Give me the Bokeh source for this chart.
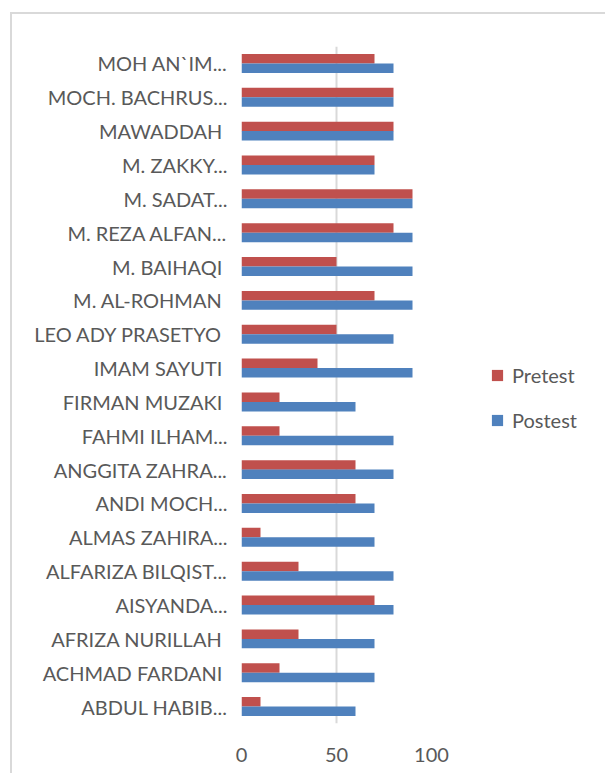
from bokeh.plotting import figure
from bokeh.models import FactorRange, Range1d, Legend, LegendItem, FixedTicker
from bokeh.transform import dodge
from bokeh.embed import file_html
from bokeh.resources import INLINE

names = ["ABDUL HABIB...", "ACHMAD FARDANI ", "AFRIZA NURILLAH ", "AISYANDA...",
         "ALFARIZA BILQIST...", "ALMAS ZAHIRA...", "ANDI MOCH...", "ANGGITA ZAHRA...",
         "FAHMI ILHAM...", "FIRMAN MUZAKI ", "IMAM SAYUTI ", "LEO ADY PRASETYO ",
         "M. AL-ROHMAN ", "M. BAIHAQI ", "M. REZA ALFAN...", "M. SADAT...",
         "M. ZAKKY...", "MAWADDAH ", "MOCH. BACHRUS...", "MOH AN`IM..."]
pretest = [10, 20, 30, 70, 30, 10, 60, 60, 20, 20, 40, 50, 70, 50, 80, 90, 70, 80, 80, 70]
postest = [60, 70, 70, 80, 80, 70, 70, 80, 80, 60, 90, 80, 90, 90, 90, 90, 70, 80, 80, 80]
x_ticks = [0, 50, 100]

FONT = "Lato"
GRAY = "#595959"

# canvas origin at (12, 14) after margin + css border
p = figure(y_range=FactorRange(factors=names), x_range=Range1d(0, 100),
           frame_width=190, frame_height=677,
           min_border_left=229, min_border_top=32, min_border_bottom=50, min_border_right=160,
           output_backend="svg", toolbar_location=None)
p.margin = (12, 0, 0, 10)
p.styles = {"border-top": "2px solid #d9d9d9", "border-left": "2px solid #d9d9d9"}

src = dict(names=names, pre=pretest, post=postest)
r_pre = p.hbar(y=dodge("names", 0.14, range=p.y_range), right="pre", left=0, height=0.28,
               source=src, fill_color="#C0504D", line_color=None)
r_post = p.hbar(y=dodge("names", -0.14, range=p.y_range), right="post", left=0, height=0.28,
                source=src, fill_color="#4F81BD", line_color=None)

p.outline_line_color = None
p.ygrid.grid_line_color = None
p.xgrid.grid_line_color = "#d9d9d9"
p.xgrid.grid_line_width = 2
p.xaxis.ticker = FixedTicker(ticks=x_ticks)
for ax in (p.xaxis, p.yaxis):
    ax.axis_line_color = None
    ax.major_tick_line_color = None
    ax.minor_tick_line_color = None
    ax.major_label_text_font = FONT
    ax.major_label_text_color = GRAY
    ax.major_label_text_font_size = "20px"
p.yaxis.major_label_standoff = 8
p.xaxis.major_label_standoff = 18

legend = Legend(items=[LegendItem(label="Pretest", renderers=[r_pre]),
                       LegendItem(label="Postest", renderers=[r_post])],
                location=(59, 291), orientation="vertical",
                label_text_font=FONT, label_text_color=GRAY, label_text_font_size="20px",
                glyph_width=14, glyph_height=14, label_standoff=8, label_height=20,
                spacing=21, padding=5, margin=0, border_line_color=None,
                background_fill_alpha=0)
p.add_layout(legend, "right")

open("out.html", "w").write(file_html(p, INLINE))
